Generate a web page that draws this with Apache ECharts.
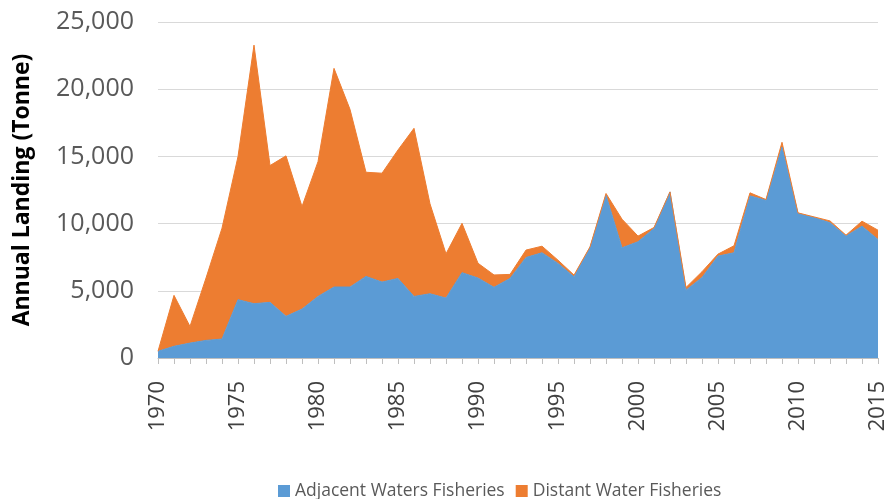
<!DOCTYPE html>
<html>
<head>
<meta charset="utf-8">
<script src="https://cdn.jsdelivr.net/npm/echarts@6/dist/echarts.min.js"></script>
<style>
  html, body { margin: 0; padding: 0; background: #fff; }
  #chart { width: 891px; height: 499px; }
</style>
</head>
<body>
<div id="chart"></div>
<script>
var years = []
for (var y = 1970; y <= 2015; y++) years.push(String(y))

// tonnes
var adjacent = [500, 870, 1110, 1310, 1410, 4340, 4040, 4140, 3100, 3640,
    4580, 5280, 5280, 6070, 5650, 5920, 4580, 4780, 4460, 6350,
    5950, 5260, 5920, 7480, 7830, 7040, 6040, 8220, 12110, 8200,
    8650, 9640, 12360, 5050, 5990, 7580, 7830, 12060, 11740, 15700,
    10750, 10450, 10060, 9070, 9810, 8820]
var distant = [0, 3790, 1240, 4640, 8250, 10650, 19240, 10180, 11940, 7630,
    10030, 16270, 13220, 7750, 8100, 9560, 12510, 6690, 3290, 3670,
    1100, 920, 300, 550, 490, 240, 130, 50, 130, 2130,
    420, 70, 0, 200, 430, 150, 520, 230, 50, 350,
    50, 50, 140, 70, 370, 690]

var font = "'Open Sans', sans-serif"
var chart = echarts.init(document.getElementById('chart'))

var areaSeries = function(name, data, color){
    return {
        name: name,
        type: 'line',
        stack: 'total',
        data: data,
        showSymbol: false,
        symbol: 'none',
        lineStyle: {color: color, width: 1},
        areaStyle: {color: color, opacity: 1},
        itemStyle: {color: color}
    }
}

chart.setOption({
    animation: false,
    grid: {left: 158, right: 13, top: 22, bottom: 141},
    legend: {
        top: 477,
        left: 273,
        itemWidth: 12,
        itemHeight: 12,
        itemGap: 11,
        icon: 'rect',
        textStyle: {fontFamily: font, fontSize: 17.5, color: '#595959'},
        data: ['Adjacent Waters Fisheries', 'Distant Water Fisheries']
    },
    xAxis: {
        type: 'category',
        data: years,
        boundaryGap: false,
        axisLine: {lineStyle: {color: '#bfbfbf'}},
        axisTick: {show: true, interval: 0, length: 6, lineStyle: {color: '#bfbfbf'}},
        axisLabel: {
            interval: 4,
            rotate: 90,
            margin: 23,
            fontFamily: font,
            fontSize: 22,
            color: '#404040'
        },
        splitLine: {show: false}
    },
    yAxis: {
        type: 'value',
        min: 0,
        max: 25000,
        interval: 5000,
        name: 'Annual Landing (Tonne)',
        nameLocation: 'middle',
        nameGap: 124,
        nameTextStyle: {fontFamily: font, fontSize: 23, fontWeight: 'bold', color: '#000'},
        axisLine: {show: false},
        axisTick: {show: false},
        axisLabel: {
            margin: 24,
            fontFamily: font,
            fontSize: 25,
            color: '#595959',
            formatter: function(v){ return v.toLocaleString('en-US') }
        },
        splitLine: {lineStyle: {color: '#d9d9d9', width: 1}}
    },
    series: [
        areaSeries('Adjacent Waters Fisheries', adjacent, '#5B9BD5'),
        areaSeries('Distant Water Fisheries', distant, '#ED7D31')
    ]
})
</script>
</body>
</html>
